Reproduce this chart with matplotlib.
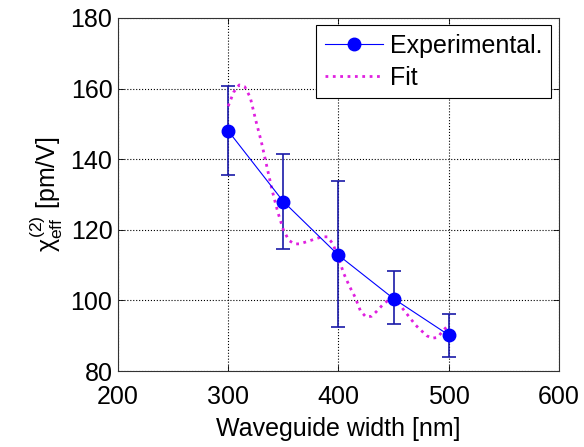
import matplotlib
matplotlib.use("Agg")
import matplotlib.pyplot as plt
from matplotlib.lines import Line2D

plt.rcParams['font.family'] = ['Liberation Sans', 'DejaVu Sans']
plt.rcParams['mathtext.fontset'] = 'custom'
plt.rcParams['mathtext.rm'] = 'Liberation Sans'
plt.rcParams['mathtext.it'] = 'Liberation Sans'
plt.rcParams['mathtext.bf'] = 'Liberation Sans:bold'

# measured points
width = [300, 350, 400, 450, 500]
chi = [148, 128, 112.8, 100.5, 90.2]
err_up = [12.7, 13.5, 21.0, 7.8, 5.9]
err_low = [12.5, 13.4, 20.3, 7.2, 6.2]

# fit curve
fit_w = [300, 305, 310, 315, 320, 325, 330, 335, 340, 345, 350, 355, 360,
         365, 370, 375, 380, 385, 390, 395, 400, 405, 410, 415, 420, 425,
         430, 435, 440, 445, 450, 455, 460, 465, 470, 475, 480, 485, 490,
         495, 500]
fit_chi = [155, 159, 161, 160.5, 157.5, 151, 145, 138, 131, 125, 120, 117,
           116, 116, 116.5, 117, 117.5, 118, 118, 116, 112, 107.5, 104, 101,
           97, 95.3, 95.5, 97, 98.7, 100, 100.5, 99, 97, 95, 93, 91.5, 90,
           89.3, 89.5, 91.5, 93]

fig = plt.figure(figsize=(5.84, 4.47), dpi=100)
ax = fig.add_axes([0.202, 0.170, 0.755, 0.790])

ax.errorbar(width, chi, yerr=[err_low, err_up], color='blue', ecolor='#1a1aa8',
            elinewidth=1.2, capsize=5, capthick=1.2, linewidth=0.8,
            marker='o', markersize=9, markerfacecolor='blue',
            markeredgecolor='blue')
ax.plot(fit_w, fit_chi, color='#e020e0', linestyle=':', linewidth=2.0)

ax.set_xlim(200, 600)
ax.set_ylim(80, 180)
ax.set_xticks([200, 300, 400, 500, 600])
ax.set_yticks([80, 100, 120, 140, 160, 180])
ax.tick_params(direction='in', labelsize=18, top=True, right=True, length=4,
               width=0.6)
ax.tick_params(axis='x', pad=10)
ax.tick_params(axis='y', pad=4)
ax.grid(True, color='black', linestyle=':', linewidth=0.8)
for s in ax.spines.values():
    s.set_linewidth(0.8)
    s.set_color('#333333')

ax.set_xlabel('Waveguide width [nm]', fontsize=18, labelpad=6)
ax.set_ylabel(r'$\chi^{(2)}_{\mathrm{eff}}$ [pm/V]', fontsize=18, labelpad=4)

handles = [Line2D([], [], color='blue', linewidth=0.8, marker='o',
                  markersize=9, markerfacecolor='blue'),
           Line2D([], [], color='#e020e0', linestyle=':', linewidth=2.0)]
leg = ax.legend(handles, ['Experimental.', 'Fit'], loc='upper right',
                fontsize=18, fancybox=False, edgecolor='black', framealpha=1,
                handlelength=2.3, borderaxespad=0.3, borderpad=0.35,
                labelspacing=0.3, handletextpad=0.3)
leg.get_frame().set_linewidth(0.8)

fig.savefig('out.png', dpi=100)
